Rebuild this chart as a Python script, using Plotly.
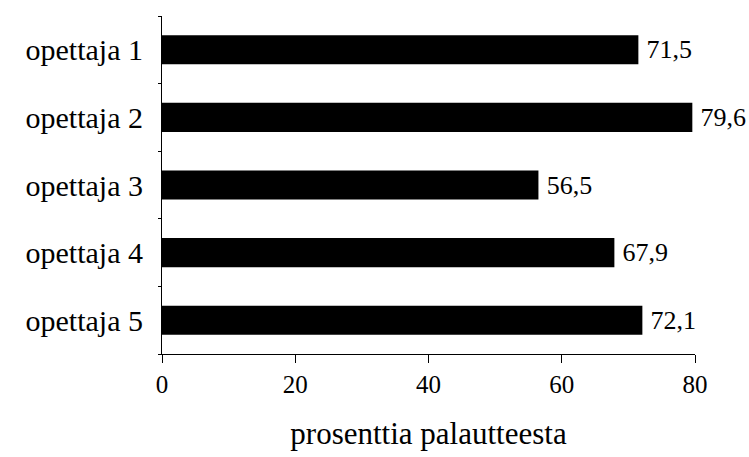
import plotly.graph_objects as go

categories = ["opettaja 1", "opettaja 2", "opettaja 3", "opettaja 4", "opettaja 5"]
values = [71.5, 79.6, 56.5, 67.9, 72.1]
labels = ["\u2009" + f"{v:.1f}".replace(".", ",") for v in values]
x_ticks = [0, 20, 40, 60, 80]

FONT = "Liberation Serif, Times New Roman, serif"

fig = go.Figure(go.Bar(
    y=categories, x=values, orientation="h",
    marker=dict(color="black", line=dict(width=0)),
    text=labels, textposition="outside", cliponaxis=False,
    textfont=dict(family=FONT, size=26, color="black"),
    width=0.43,
))

fig.update_layout(
    width=749, height=457,
    margin=dict(l=162, r=54, t=16, b=100),
    paper_bgcolor="white", plot_bgcolor="white",
    font=dict(family=FONT, color="black"),
    showlegend=False,
    xaxis=dict(
        range=[0, 80], tickvals=x_ticks, ticktext=[str(t) for t in x_ticks],
        showgrid=False, zeroline=False, showline=True, linecolor="black", linewidth=1,
        ticks="outside", ticklen=8, tickcolor="black",
        tickfont=dict(family=FONT, size=25),
        title=dict(text="prosenttia palautteesta", font=dict(family=FONT, size=31), standoff=25),
    ),
    yaxis=dict(
        categoryorder="array", categoryarray=categories[::-1],
        autorange=False, range=[-0.5, 4.5],
        showgrid=False, zeroline=False, showline=True, linecolor="black", linewidth=1,
        ticks="outside", ticklen=3, tickcolor="black", tickson="boundaries",
        tickfont=dict(family=FONT, size=30), ticklabelstandoff=12,
    ),
)

fig.write_html("out.html")
